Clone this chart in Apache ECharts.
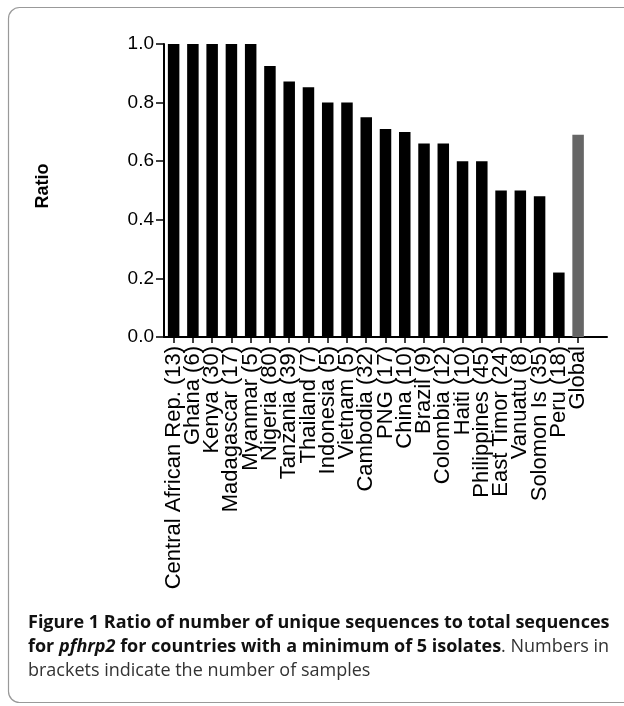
<!DOCTYPE html>
<html>
<head>
<meta charset="utf-8">
<script src="https://cdn.jsdelivr.net/npm/echarts@6/dist/echarts.min.js"></script>
<style>
html,body{margin:0;padding:0;background:#fff;}
#c{width:624px;height:706px;}
</style>
</head>
<body>
<div id="c"></div>
<script>
var categories = ['Central African Rep. (13)','Ghana (6)','Kenya (30)','Madagascar (17)','Myanmar (5)','Nigeria (80)','Tanzania (39)','Thailand (7)','Indonesia (5)','Vietnam (5)','Cambodia (32)','PNG (17)','China (10)','Brazil (9)','Colombia (12)','Haiti (10)','Philippines (45)','East Timor (24)','Vanuatu (8)','Solomon Is (35)','Peru (18)','Global'];
var ratios = [1.0,1.0,1.0,1.0,1.0,0.925,0.872,0.852,0.80,0.80,0.75,0.71,0.70,0.66,0.66,0.60,0.60,0.50,0.50,0.48,0.22,0.69];
var yTicks = [0.0,0.2,0.4,0.6,0.8,1.0];
var highlightCategory = 'Global';
var captionLine1 = 'Figure 1 Ratio of number of unique sequences to total sequences';
var captionLine3 = 'brackets indicate the number of samples';
</script>
<script>
var chart = echarts.init(document.getElementById('c'), null, {renderer:'canvas'});
var axisCats = categories.concat(['']);
var FONT = 'Liberation Sans, Arial, sans-serif';
var CAP = '"Open Sans", sans-serif';
var CS = 18;
var option = {
  animation: false,
  backgroundColor: '#fff',
  grid: {left: 164, right: 17, top: 44, bottom: 369, containLabel: false},
  xAxis: {
    type: 'category',
    data: axisCats,
    boundaryGap: true,
    axisLine: {show: true, lineStyle: {color: '#000', width: 2}},
    axisTick: {show: true, alignWithLabel: true, length: 6, lineStyle: {color: '#000', width: 1.5},
      interval: function(i, v){ return v !== ''; }},
    axisLabel: {interval: 0, rotate: 90, margin: 9, fontSize: 22, color: '#000', fontFamily: FONT},
    splitLine: {show: false}
  },
  yAxis: {
    type: 'value',
    min: yTicks[0], max: yTicks[yTicks.length-1], interval: 0.2,
    name: 'Ratio', nameLocation: 'middle', nameRotate: 90, nameGap: 112,
    nameTextStyle: {fontSize: 18, fontWeight: 'bold', color: '#000', fontFamily: FONT, padding: [0, 0, 0, 9]},
    axisLine: {show: true, lineStyle: {color: '#000', width: 2}},
    axisTick: {show: true, length: 8, lineStyle: {color: '#000', width: 1.5}},
    axisLabel: {margin: 10, fontSize: 19, color: '#000', fontFamily: FONT,
      formatter: function(v){ return v.toFixed(1); }},
    splitLine: {show: false}
  },
  series: [{
    type: 'bar',
    barWidth: 11.5,
    data: ratios.map(function(v, i){
      return {value: v, itemStyle: {color: categories[i] === highlightCategory ? '#666666' : '#000000'}};
    })
  }],
  graphic: [
    {type: 'rect', shape: {x: 8.5, y: 7.5, width: 700, height: 695, r: 11}, style: {fill: 'none', stroke: '#999', lineWidth: 1.2}, silent: true},
    {type: 'text', style: {x: 28, y: 632, verticalAlign: 'bottom', text: captionLine1, font: 'bold ' + CS + 'px ' + CAP, fill: '#111'}},
    {type: 'text', style: {x: 28, y: 656, verticalAlign: 'bottom',
      text: '{b|for }{bi|pfhrp2}{b| for countries with a minimum of 5 isolates}{n|. Numbers in}',
      rich: {
        b: {font: 'bold ' + CS + 'px ' + CAP, fill: '#111'},
        bi: {font: 'italic bold ' + CS + 'px ' + CAP, fill: '#111'},
        n: {font: CS + 'px ' + CAP, fill: '#333'}
      }}},
    {type: 'text', style: {x: 28, y: 680, verticalAlign: 'bottom', text: captionLine3, font: CS + 'px ' + CAP, fill: '#333'}}
  ]
};
chart.setOption(option);
</script>
</body>
</html>
